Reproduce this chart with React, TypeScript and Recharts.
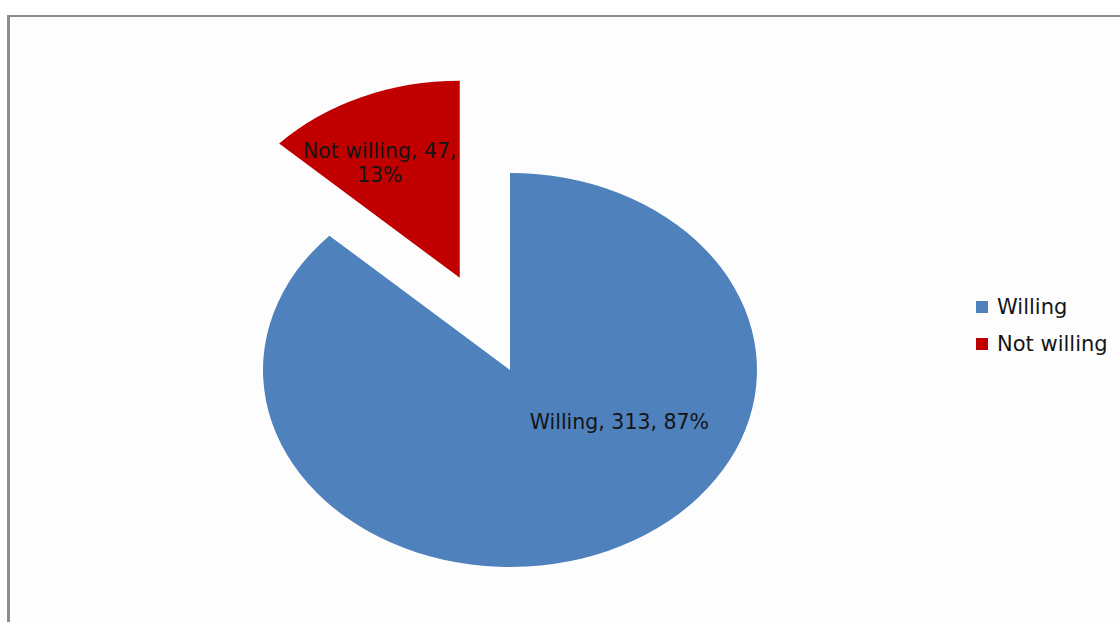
import { PieChart, Pie, Cell, Legend } from "recharts";

const labels = ["Willing", "Not willing"];
const counts = [313, 47];
const colors = ["#4F81BD", "#C00000"];

const data = labels.map((name, i) => ({ name, value: counts[i] }));

// ellipse look of the old Excel chart: vertical radius as a share of horizontal
const ASPECT = 197 / 247;
const EXPLODE_INDEX = 1;
const EXPLODE = 0.51;
// label centres, as fractions of rx / ry from each slice's own centre (screen y down)
const LABEL_POS = [
  { x: 0.443, y: 0.264, wrap: false },
  { x: -0.324, y: -0.581, wrap: true },
];
const FONT = "'DejaVu Sans', sans-serif";

const RAD = Math.PI / 180;

// eslint-disable-next-line @typescript-eslint/no-explicit-any
const renderSlice = (props: any) => {
  const { cx, cy, outerRadius, startAngle, endAngle, midAngle, index, name, value, percent } = props;
  const rx = outerRadius;
  const ry = outerRadius * ASPECT;
  let ox = cx;
  let oy = cy;
  if (index === EXPLODE_INDEX) {
    ox += EXPLODE * rx * Math.cos(midAngle * RAD);
    oy -= EXPLODE * ry * Math.sin(midAngle * RAD);
  }
  const p = (a: number) => [ox + rx * Math.cos(a * RAD), oy - ry * Math.sin(a * RAD)];
  const [x1, y1] = p(startAngle);
  const [x2, y2] = p(endAngle);
  const large = Math.abs(startAngle - endAngle) > 180 ? 1 : 0;
  const sweep = startAngle > endAngle ? 1 : 0;
  const d = `M${ox},${oy} L${x1},${y1} A${rx},${ry} 0 ${large} ${sweep} ${x2},${y2} Z`;

  const pos = LABEL_POS[index];
  const tx = ox + pos.x * rx;
  const ty = oy + pos.y * ry;
  const pct = `${Math.round(percent * 100)}%`;
  const lines = pos.wrap ? [`${name}, ${value},`, pct] : [`${name}, ${value}, ${pct}`];
  const first = ty + 7 - ((lines.length - 1) * 24) / 2;

  return (
    <g key={`slice-${index}`}>
      <path d={d} fill={colors[index]} stroke="none" />
      <text textAnchor="middle" fill="#151515" fontSize={20.5} fontFamily={FONT}>
        {lines.map((l, i) => (
          <tspan key={i} x={tx} y={first + i * 24}>
            {l}
          </tspan>
        ))}
      </text>
    </g>
  );
};

const renderLegend = () => (
  <div style={{ fontFamily: FONT, fontSize: 21, color: "#151515" }}>
    {labels.map((l, i) => (
      <div key={l} style={{ height: 37, display: "flex", alignItems: "center" }}>
        <span
          style={{ width: 12, height: 12, background: colors[i], marginRight: 9, display: "inline-block" }}
        />
        <span>{l}</span>
      </div>
    ))}
  </div>
);

export default function App() {
  return (
    <div style={{ position: "absolute", left: 0, top: 0, width: 1120, height: 622, background: "#fff" }}>
      <div
        style={{
          position: "absolute",
          left: 7,
          top: 15,
          right: 0,
          bottom: 0,
          borderLeft: "3px solid #8c8c8c",
          borderTop: "2px solid #8c8c8c",
          background: "#fdfdfd",
        }}
      />
      <div style={{ position: "absolute", left: 0, top: 0 }}>
        <PieChart width={1120} height={622} margin={{ top: 0, right: 0, bottom: 0, left: 0 }}>
          <Pie
            data={data}
            dataKey="value"
            nameKey="name"
            cx={510}
            cy={370}
            outerRadius={247}
            startAngle={90}
            endAngle={-270}
            stroke="none"
            fillOpacity={0}
            label={renderSlice}
            labelLine={false}
            isAnimationActive={false}
          >
            {data.map((_, i) => (
              <Cell key={i} fill={colors[i]} />
            ))}
          </Pie>
          <Legend
            content={renderLegend}
            wrapperStyle={{ left: 976, top: 288, width: 144, bottom: "auto" }}
          />
        </PieChart>
      </div>
    </div>
  );
}
